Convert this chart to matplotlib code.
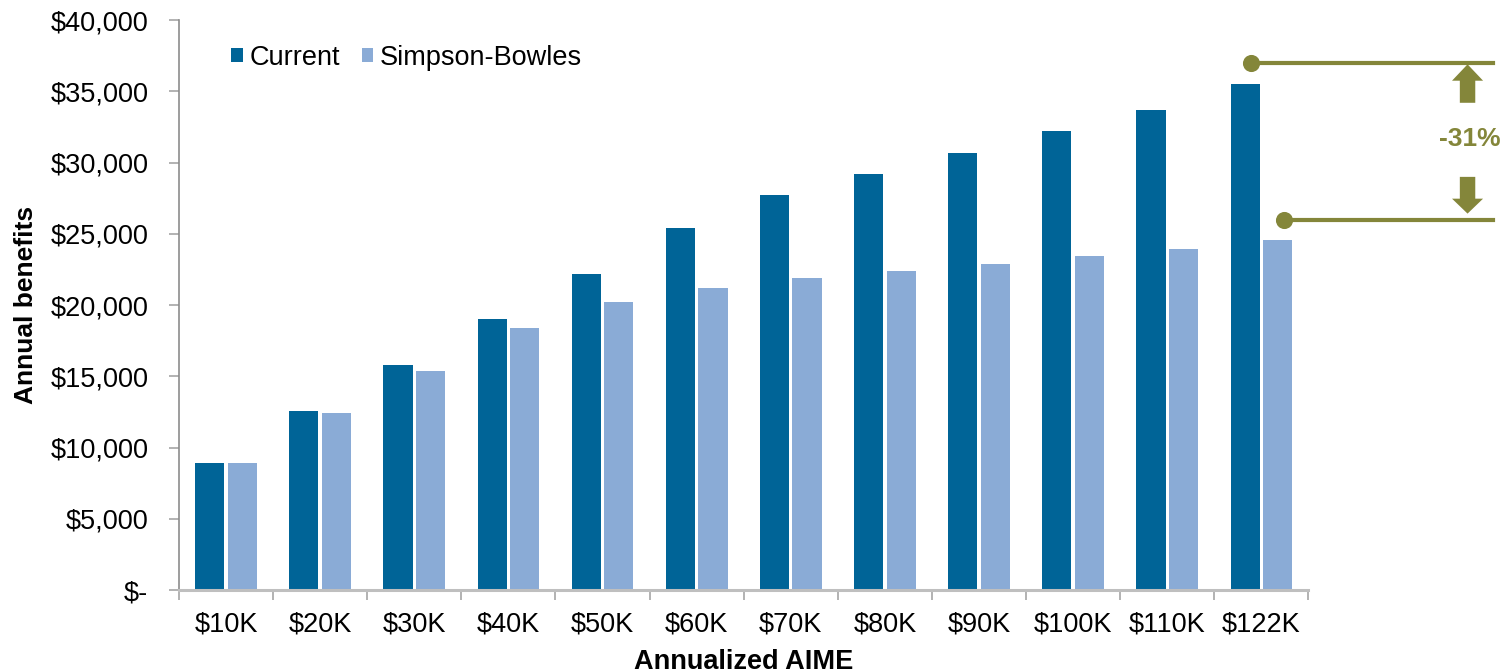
import matplotlib.pyplot as plt
import numpy as np
from matplotlib.patches import Polygon
from matplotlib.ticker import FuncFormatter

plt.rcParams["font.family"] = ["Liberation Sans", "DejaVu Sans"]

categories = ["$10K", "$20K", "$30K", "$40K", "$50K", "$60K",
              "$70K", "$80K", "$90K", "$100K", "$110K", "$122K"]
current = [8900, 12600, 15800, 19000, 22200, 25400,
           27700, 29200, 30700, 32200, 33700, 35500]
simpson_bowles = [8900, 12400, 15400, 18400, 20200, 21200,
                  21900, 22400, 22900, 23450, 23950, 24550]

DARK_BLUE = "#006497"
LIGHT_BLUE = "#8AABD6"
OLIVE = "#84863A"
FS = 19.5

fig = plt.figure(figsize=(15.04, 6.72), dpi=100)
ax = fig.add_axes([0.119, 0.122, 0.751, 0.848])

x = np.arange(len(categories))
width = 0.31
offset = 0.173
ax.bar(x - offset, current, width, color=DARK_BLUE, label="Current")
ax.bar(x + offset, simpson_bowles, width, color=LIGHT_BLUE, label="Simpson-Bowles")

ax.set_xlim(-0.5, len(categories) - 0.5)
ax.set_ylim(0, 40000)
ax.set_yticks(np.arange(0, 40001, 5000))
ax.yaxis.set_major_formatter(
    FuncFormatter(lambda v, _: "$-" if v == 0 else f"${v:,.0f}"))

# labels at bar-group centres, tick marks on the group boundaries
ax.set_xticks(x)
ax.set_xticklabels(categories)
ax.set_xticks(np.arange(-0.5, len(categories)), minor=True)
ax.tick_params(axis="x", which="major", length=0, pad=15.5, labelsize=FS)
ax.tick_params(axis="x", which="minor", length=7, width=1.2, color="#A6A6A6")
ax.tick_params(axis="y", length=7, width=1.2, color="#A6A6A6", labelsize=FS, pad=15)

for side in ("top", "right"):
    ax.spines[side].set_visible(False)
ax.spines["left"].set_color("#8C8C8C")
ax.spines["left"].set_linewidth(1.2)
ax.spines["bottom"].set_color("#BFBFBF")
ax.spines["bottom"].set_linewidth(2.2)

ax.set_xlabel("Annualized AIME", fontsize=FS, fontweight="bold", labelpad=8)
ax.set_ylabel("Annual benefits", fontsize=19, fontweight="bold", labelpad=9)

ax.legend(loc="center left", bbox_to_anchor=(0.046, 0.934), ncol=2, frameon=False,
          fontsize=FS, handlelength=0.43, handleheight=0.43,
          handletextpad=0.25, columnspacing=0.8, borderpad=0, borderaxespad=0)

# gap markers for the top income level
top_y, low_y = 37000, 26000
ax.plot([10.89, 13.46], [top_y, top_y], color=OLIVE, lw=3, clip_on=False)
ax.plot([11.24, 13.46], [low_y, low_y], color=OLIVE, lw=3, clip_on=False)
ax.plot([10.89], [top_y], "o", color=OLIVE, ms=11.3, clip_on=False)
ax.plot([11.24], [low_y], "o", color=OLIVE, ms=11.3, clip_on=False)

ax_x = 13.19
hw, sw = 0.165, 0.082
up = [(ax_x - sw, 34200), (ax_x - sw, 35750), (ax_x - hw, 35750), (ax_x, top_y - 100),
      (ax_x + hw, 35750), (ax_x + sw, 35750), (ax_x + sw, 34200)]
down = [(ax_x - sw, 29000), (ax_x - sw, 27470), (ax_x - hw, 27470), (ax_x, 26420),
        (ax_x + hw, 27470), (ax_x + sw, 27470), (ax_x + sw, 29000)]
for pts in (up, down):
    ax.add_patch(Polygon(pts, closed=True, color=OLIVE, clip_on=False, lw=0))

ax.text(ax_x + 0.02, 31650, "-31%", color=OLIVE, fontsize=19, fontweight="bold",
        ha="center", va="center", clip_on=False)

fig.savefig("out.png", dpi=100)
